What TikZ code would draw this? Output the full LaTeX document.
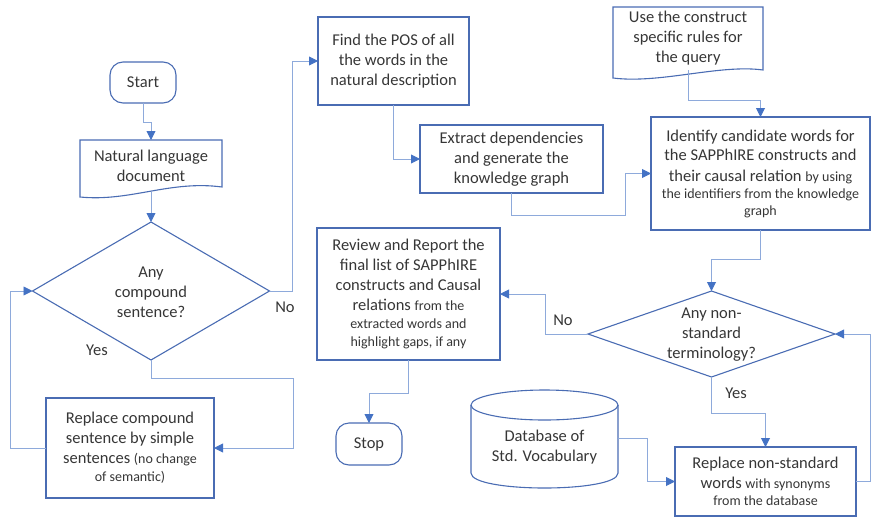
\documentclass[tikz,border=0pt]{standalone}
\usepackage{fontspec}
\setmainfont{Carlito}
\usetikzlibrary{arrows.meta,shapes.geometric,calc}
\definecolor{boxc}{HTML}{4A6CB3}
\definecolor{linec}{HTML}{8EAADB}
\definecolor{tipc}{HTML}{4472C4}
\definecolor{txtc}{HTML}{363636}
\newcommand\bigf{\fontsize{16.5}{20}\selectfont}
\newcommand\smf{\fontsize{14}{17.5}\selectfont}
\tikzset{
  outline/.style={draw=boxc, line width=1.1pt},
  proc/.style={outline, rectangle, align=center, text=txtc, font=\bigf, inner sep=0pt, outer sep=0pt},
  term/.style={proc, rounded corners=13pt},
  ghost/.style={rectangle, inner sep=0pt, outer sep=0pt, align=center, text=txtc, font=\bigf},
  dec/.style={outline, diamond, inner sep=0pt, outer sep=0pt},
  conn/.style={draw=linec, line width=0.9pt, -{Triangle[length=9pt,width=9pt,color=tipc]}},
  lbl/.style={text=txtc, font=\bigf, inner sep=0pt},
}
\begin{document}
\begin{tikzpicture}[x=1pt,y=-1pt]
\useasboundingbox (0,0) rectangle (872,517);

% left column
\node[term, minimum width=66pt, minimum height=41pt] (start) at (143,82.5) {Start};
\node[ghost, minimum width=142pt, minimum height=52pt] (doc) at (151,166) {Natural language\\document};
\draw[outline] (80,140) -- (222,140) -- (222,187) .. controls (170,180) and (130,202) .. (80,197) -- cycle;
\node[dec, minimum width=237pt, minimum height=138pt] (d1) at (151,291) {};
\node[ghost] (d1t) at (151,292) {Any\\compound\\sentence?};
\node[proc, minimum width=168pt, minimum height=100pt] (rep1) at (130,448)
  {Replace compound\\sentence by simple\\sentences {\smf (no change}\\[-2pt]{\smf of semantic)}};

% middle column
\node[proc, minimum width=151pt, minimum height=88pt] (find) at (393.5,61)
  {Find the POS of all\\the words in the\\natural description};
\node[proc, minimum width=183pt, minimum height=68pt] (extract) at (511.5,159)
  {Extract dependencies\\and generate the\\knowledge graph};
\node[proc, minimum width=183pt, minimum height=132pt] (review) at (408.5,294)
  {Review and Report the\\final list of SAPPhIRE\\constructs and Causal\\relations {\smf from the}\\[-2pt]{\smf extracted words and}\\[-2pt]{\smf highlight gaps, if any}};
\node[term, minimum width=66pt, minimum height=42pt] (stop) at (369,444) {Stop};

% database cylinder
\node[ghost, minimum width=147pt, minimum height=97pt] (db) at (544.5,438.5) {};
\draw[outline] (471,405) -- (471,473) .. controls (471,493) and (618,493) .. (618,473) -- (618,405);
\draw[outline] (544.5,405) ellipse [x radius=73.5pt, y radius=15pt];
\node[ghost] (dbt) at (544.5,447) {Database of\\Std. Vocabulary};

% right column
\node[ghost, minimum width=150pt, minimum height=63pt] (usedoc) at (688,38.5)
  {Use the construct\\specific rules for\\the query};
\draw[outline] (613,7) -- (763,7) -- (763,70) .. controls (720,64) and (660,84) .. (613,78) -- cycle;
\node[proc, minimum width=219pt, minimum height=113pt] (ident) at (760.5,173.5)
  {Identify candidate words for\\[-1pt]the SAPPhIRE constructs and\\[1pt]their causal relation {\smf by using}\\[-3pt]{\smf the identifiers from the knowledge}\\[-3pt]{\smf graph}};
\node[dec, minimum width=247pt, minimum height=86pt] (d2) at (711.5,334) {};
\node[ghost] (d2t) at (711.5,335) {Any non-\\standard\\terminology?};
\node[proc, minimum width=181pt, minimum height=69pt] (rep2) at (765.5,481.5)
  {Replace non-standard\\words {\smf with synonyms}\\[-3pt]{\smf from the database}};

% connectors
\draw[conn] (start.south) -- ++(0,19) -| (doc.north);
\draw[conn] (doc.south) -- (d1.north);
\draw[conn] (d1.east) -- ++(23,0) |- (find.west);
\draw[conn] (d1.south) |- (293,378) |- (rep1.east);
\draw[conn] (rep1.west) -- (10,448) |- (d1.west);
\draw[conn] (find.south) |- (extract.west);
\draw[conn] (extract.south) |- (625,215) |- (ident.west);
\draw[conn] (usedoc.south) -- (688,100) -| (ident.north);
\draw[conn] (ident.south) -- ++(0,29) -| (d2.north);
\draw[conn] (d2.west) -- (545,334) |- (review.east);
\draw[conn] (review.south) -- ++(0,33) -| (stop.north);
\draw[conn] (db.east) -- (647,438.5) |- (rep2.west);
\draw[conn] (d2.south) -- (711.5,413) -| (rep2.north);
\draw[conn] (rep2.east) -- (870,481.5) |- (d2.east);

% branch labels
\node[lbl] (no1) at (285,307) {No};
\node[lbl] (yes1) at (97,350) {Yes};
\node[lbl] (no2) at (563,320) {No};
\node[lbl] (yes2) at (736,393) {Yes};
\end{tikzpicture}
\end{document}
